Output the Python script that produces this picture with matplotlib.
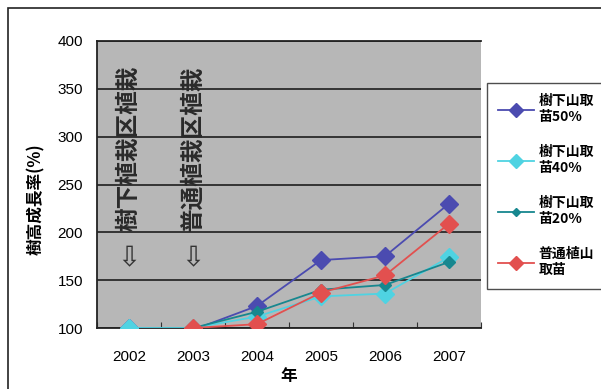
import numpy as np
import matplotlib.pyplot as plt
from matplotlib.patches import Rectangle

plt.rcParams['font.family'] = ['Liberation Sans', 'Noto Sans CJK JP', 'DejaVu Sans']
JP = ['Noto Sans CJK JP', 'DejaVu Sans']

years = ['2002', '2003', '2004', '2005', '2006', '2007']
series_names = ['樹下山取\n苗50%', '樹下山取\n苗40%', '樹下山取\n苗20%', '普通植山\n取苗']
rate_50 = [100, 98, 123, 171, 175, 230]
rate_40 = [100, 100, 112, 133, 136, 174]
rate_20 = [np.nan, 100, 117, 140, 145, 169]
rate_normal = [np.nan, 100, 104, 137, 155, 209]
series_values = [rate_50, rate_40, rate_20, rate_normal]
series_colors = ['#4b4bb0', '#4fd3e2', '#17878f', '#e2504f']
marker_sizes = [9, 9, 6, 9]

planting_notes = ['樹下植栽区植栽', '普通植栽区植栽']
yticks = [100, 150, 200, 250, 300, 350, 400]

fig = plt.figure(figsize=(6.01, 3.89), dpi=100)
fig.patches.append(Rectangle((8 / 601, -0.1), 1.2, 1 - 8 / 389 + 0.1,
                             transform=fig.transFigure, fill=False,
                             edgecolor='#222222', lw=1.2))

ax = fig.add_axes([97 / 601, 1 - 328 / 389, 384 / 601, 287 / 389])
ax.set_facecolor('#b7b7b7')

x = np.arange(len(years))
handles = []
for vals, c, ms in zip(series_values, series_colors, marker_sizes):
    h, = ax.plot(x, vals, color=c, lw=1.3, marker='D', ms=ms,
                 markeredgecolor=c, zorder=3)
    handles.append(h)

ax.set_xlim(-0.5, len(years) - 0.5)
ax.set_ylim(100, 400)
ax.set_yticks(yticks)
ax.set_yticklabels([str(v) for v in yticks], fontsize=11)
ax.tick_params(axis='y', length=0, pad=10)
ax.yaxis.grid(True, color='#2a2a2a', lw=1.3)
ax.set_axisbelow(True)

# category boundaries as ticks, year labels centred between them
ax.set_xticks(np.arange(len(years) + 1) - 0.5)
ax.set_xticklabels([])
ax.tick_params(axis='x', which='major', direction='in', length=4, color='#333333')
ax.set_xticks(x, minor=True)
ax.set_xticklabels(years, minor=True, fontsize=11)
ax.tick_params(axis='x', which='minor', length=0, pad=16)

ax.spines['right'].set_visible(False)
for side in ['left', 'bottom', 'top']:
    ax.spines[side].set_color('#222222')
    ax.spines[side].set_linewidth(1.3)

for i, note in enumerate(planting_notes):
    ax.text(i, 288, note, rotation=90, ha='center', va='center',
            fontsize=17, fontweight='bold', family=JP, color='#2a2a2a')
    ax.text(i, 173, '⇩', ha='center', va='center', fontsize=20,
            family=['DejaVu Sans'], color='#333333')

ax.set_ylabel('樹高成長率(%)', family=JP, fontsize=12, fontweight='bold')
ax.yaxis.set_label_coords(-0.135, 0.45)
ax.set_xlabel('年', family=JP, fontsize=12, fontweight='bold', labelpad=2)

leg = fig.legend(handles, series_names, loc='upper left',
                 bbox_to_anchor=(487 / 601, 1 - 83 / 389), borderaxespad=0,
                 prop={'family': JP, 'size': 10, 'weight': 'bold'},
                 frameon=True, fancybox=False, edgecolor='#222222',
                 borderpad=0.8, labelspacing=1.5, handlelength=2.6,
                 handletextpad=0.3, markerscale=0.75)
leg.get_frame().set_linewidth(1.0)

fig.savefig('out.png', dpi=100)
